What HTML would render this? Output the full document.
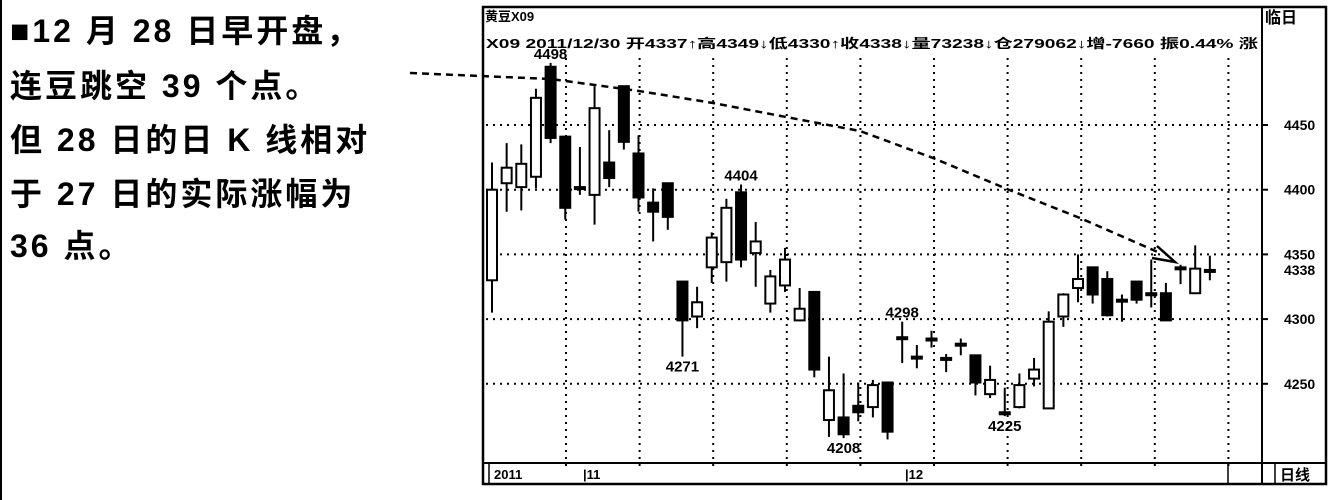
<!DOCTYPE html>
<html><head><meta charset="utf-8">
<style>
html,body{margin:0;padding:0;background:#fff;}
body{width:1332px;height:500px;overflow:hidden;position:relative;font-family:"Liberation Sans","Noto Sans CJK SC",sans-serif;}
.note{position:absolute;left:10px;font-weight:bold;font-size:32px;color:#000;white-space:nowrap;letter-spacing:3px;}
svg text{font-family:"Liberation Sans Narrow","Liberation Sans","Noto Sans CJK SC",sans-serif;font-weight:bold;fill:#000;}
</style></head><body>
<div style="position:absolute;left:0;top:0;width:2px;height:500px;background:#000"></div>
<div class="note" style="top:6px">■12 月 28 日早开盘，</div>
<div class="note" style="top:61px">连豆跳空 39 个点。</div>
<div class="note" style="top:115px">但 28 日的日 K 线相对</div>
<div class="note" style="top:169px">于 27 日的实际涨幅为</div>
<div class="note" style="top:221px">36 点。</div>

<svg id="chart" width="1332" height="500" style="position:absolute;left:0;top:0">
<rect x="483" y="7" width="843" height="477" fill="none" stroke="#000" stroke-width="2.5"/>
<line x1="1262" y1="7" x2="1262" y2="484" stroke="#000" stroke-width="2"/>
<line x1="483" y1="463" x2="1326" y2="463" stroke="#000" stroke-width="2"/>
<line x1="489" y1="463" x2="489" y2="484" stroke="#000" stroke-width="1.5"/>
<line x1="1228" y1="463" x2="1228" y2="484" stroke="#000" stroke-width="1.5"/>
<line x1="1275" y1="463" x2="1275" y2="484" stroke="#000" stroke-width="1.5"/>
<text x="485" y="21" font-size="13">黄豆X09</text>
<text x="486" y="48" font-size="13" textLength="772" lengthAdjust="spacingAndGlyphs">X09 2011/12/30 开4337↑高4349↓低4330↑收4338↓量73238↓仓279062↓增-7660 振0.44% 涨</text>
<text x="1265" y="23" font-size="16">临日</text>
<text x="494" y="479" font-size="13">2011</text>
<text x="583" y="479" font-size="13">|11</text>
<text x="905" y="479" font-size="13">|12</text>
<text x="1280" y="480" font-size="15">日线</text>
<g id="grid"></g><g id="axis"></g><g id="candles"></g><g id="labels"></g>
<path d="M410,73 L551,79 L639,91 L713,103 L786,117 L860,131 L933,158 L1007,189 L1080,218 L1160,253" fill="none" stroke="#000" stroke-width="2.5" stroke-dasharray="7,5"/>
<path d="M1157,246 L1175,262 L1152,258" fill="none" stroke="#000" stroke-width="2.5"/>
</svg>
<script>
const opens  =[4330,4405,4402,4410,4495,4441,4402,4396,4421,4480,4428,4390,4405,4329,4302,4340,4344,4398,4351,4312,4326,4299,4321,4222,4224,4233,4232,4251,4286,4271,4285,4270,4281,4272,4242,4228,4232,4254,4231,4302,4324,4340,4331,4315,4329,4320,4320,4340,4320,4338];
const closes =[4400,4417,4420,4471,4440,4386,4401,4463,4409,4437,4394,4383,4379,4299,4313,4363,4386,4346,4360,4333,4346,4308,4261,4245,4211,4228,4249,4213,4285,4270,4284,4269,4280,4251,4253,4227,4249,4261,4298,4319,4331,4319,4303,4314,4315,4319,4299,4339,4339,4337];
const highs  =[4421,4436,4435,4478,4498,4441,4433,4480,4446,4480,4442,4401,4405,4329,4325,4367,4393,4404,4375,4338,4355,4324,4321,4271,4258,4251,4253,4251,4298,4280,4291,4273,4285,4272,4264,4247,4258,4270,4306,4320,4350,4340,4337,4319,4329,4346,4328,4342,4357,4349];
const lows   =[4305,4383,4384,4401,4436,4377,4396,4373,4402,4431,4383,4360,4369,4271,4293,4328,4329,4340,4325,4305,4321,4299,4255,4209,4208,4221,4224,4207,4266,4262,4278,4259,4272,4241,4239,4225,4231,4248,4231,4294,4313,4312,4302,4298,4312,4309,4299,4327,4320,4330];
const yTicks=[4450,4400,4350,4300,4250];
const markLabels=[[4,"4498","high"],[13,"4271","low"],[17,"4404","high"],[24,"4208","low"],[28,"4298","high"],[35,"4225","low"]];
const lastClose=4338;

const NS="http://www.w3.org/2000/svg";
const yS=p=>125+(4450-p)*1.294;
const xS=i=>492+i*14.65;
function mk(tag,attrs,parent){const e=document.createElementNS(NS,tag);for(const k in attrs)e.setAttribute(k,attrs[k]);parent.appendChild(e);return e;}
const grid=document.getElementById('grid'),axis=document.getElementById('axis'),cg=document.getElementById('candles'),lg=document.getElementById('labels');
yTicks.forEach(t=>{
  const l=mk('line',{x1:486,x2:1262,y1:yS(t),y2:yS(t),stroke:'#000','stroke-width':2,'stroke-dasharray':'2,5'},grid);
  
  
  const tk=mk('line',{x1:1262,x2:1268,y1:yS(t),y2:yS(t),stroke:'#000','stroke-width':2},axis);
  
  
  const tx=mk('text',{x:1284,y:yS(t)+5,'font-size':14},axis);
  tx.textContent=t;
  
  
});
const lc=mk('text',{x:1284,y:yS(lastClose)+5,'font-size':14},axis);
lc.textContent=lastClose;


for(let k=0;k<10;k++){
  const x=566+k*73.6;
  const v=mk('line',{x1:x,x2:x,y1:58,y2:468,stroke:'#000','stroke-width':2,'stroke-dasharray':'2,5'},grid);
  
  
}
opens.forEach((o,i)=>{
  const c=closes[i],x=xS(i);
  const w=mk('line',{x1:x,x2:x,y1:yS(highs[i]),y2:yS(lows[i]),stroke:'#000','stroke-width':2},cg);
  
  
  const top=yS(Math.max(o,c)),bot=yS(Math.min(o,c));
  const h=Math.max(bot-top,2);
  const up=c>o&&(c-o)>3;
  const b=mk('rect',{x:x-5,y:top,width:10,height:h,fill:up?'#fff':'#000',stroke:'#000','stroke-width':2},cg);
  
  
});
markLabels.forEach(m=>{
  const i=m[0],y=m[2]==='high'?yS(highs[i])-4:yS(lows[i])+15;
  const t=mk('text',{x:xS(i),y:y,'font-size':15,'text-anchor':'middle'},lg);
  t.textContent=m[1];
  
  
});
</script>
</body></html>
